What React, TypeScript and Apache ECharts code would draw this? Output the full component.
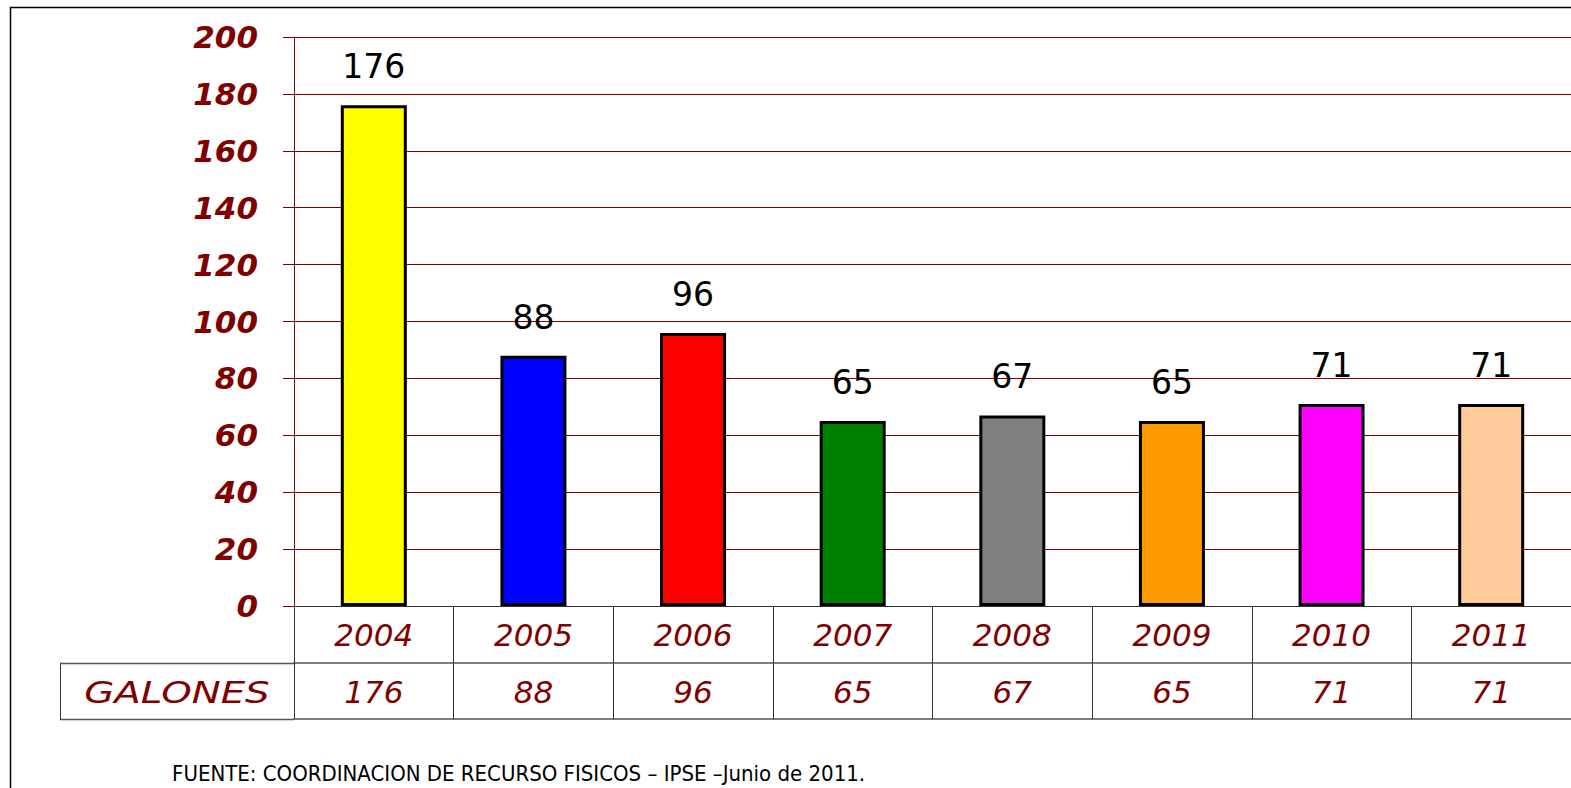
import React, { useEffect, useRef } from "react";
import * as echarts from "echarts";

const years = ["2004", "2005", "2006", "2007", "2008", "2009", "2010", "2011"];
const galones = [176, 88, 96, 65, 67, 65, 71, 71];
const barColors = ["#FFFF00", "#0000FF", "#FF0000", "#008000", "#808080", "#FF9900", "#FF00FF", "#FFCC99"];
const rowTitle = "GALONES";
const footer = "FUENTE: COORDINACION DE RECURSO FISICOS – IPSE –Junio de 2011.";

const DARK_RED = "#800000";
const TABLE_LINE = "#333333";
const TABLE_FONT = "DejaVu Sans, sans-serif";

export default function App() {
  const ref = useRef<HTMLDivElement>(null);
  useEffect(() => {
    document.body.style.margin = "0";
    const chart = echarts.init(ref.current!, null, { renderer: "svg" });
    chart.setOption({
      animation: false,
      backgroundColor: "#ffffff",
      grid: { left: 294, top: 37, width: 1283, height: 569 },
      xAxis: [
        {
          type: "category",
          data: years,
          position: "bottom",
          axisLine: { show: true, lineStyle: { color: TABLE_LINE, width: 1 } },
          axisTick: { show: true, length: 113, interval: 0, lineStyle: { color: TABLE_LINE, width: 1 } },
          axisLabel: {
            interval: 0,
            margin: 13,
            color: DARK_RED,
            fontStyle: "italic",
            fontSize: 31,
            fontFamily: TABLE_FONT,
          },
          splitLine: { show: false },
        },
        {
          type: "category",
          data: years,
          position: "bottom",
          offset: 57,
          axisLine: { show: true, lineStyle: { color: "#555555", width: 1.5 } },
          axisTick: { show: false },
          axisLabel: {
            interval: 0,
            margin: 13,
            color: DARK_RED,
            fontStyle: "italic",
            fontSize: 31,
            fontFamily: TABLE_FONT,
            formatter: (_v: string, i: number) => String(galones[i]),
          },
          splitLine: { show: false },
        },
        {
          type: "category",
          data: years,
          position: "bottom",
          offset: 113,
          axisLine: { show: true, lineStyle: { color: "#555555", width: 1.5 } },
          axisTick: { show: false },
          axisLabel: { show: false },
          splitLine: { show: false },
        },
      ],
      yAxis: {
        type: "value",
        min: 0,
        max: 200,
        interval: 20,
        axisLine: { show: true, lineStyle: { color: DARK_RED, width: 1 } },
        axisTick: { show: true, length: 11, lineStyle: { color: DARK_RED, width: 1 } },
        axisLabel: {
          margin: 36,
          color: DARK_RED,
          fontWeight: "bold",
          fontStyle: "italic",
          fontSize: 31,
          fontFamily: "DejaVu Sans, sans-serif",
        },
        splitLine: { show: true, lineStyle: { color: DARK_RED, width: 1 } },
      },
      series: [
        {
          type: "bar",
          xAxisIndex: 0,
          barWidth: 66,
          data: galones.map((v, i) => ({
            value: v,
            itemStyle: { color: barColors[i], borderColor: "#000000", borderWidth: 3 },
          })),
          label: {
            show: true,
            position: "top",
            distance: 22,
            color: "#000000",
            fontSize: 33,
            fontFamily: "DejaVu Sans, sans-serif",
          },
        },
      ],
      graphic: [
        {
          type: "rect",
          silent: true,
          z: -10,
          shape: { x: 10.5, y: 7.5, width: 1700, height: 900 },
          style: { fill: "none", stroke: "#000000", lineWidth: 1.5 },
        },
        { type: "line", shape: { x1: 60, y1: 663.5, x2: 294, y2: 663.5 }, style: { stroke: "#555555", lineWidth: 1.5 } },
        { type: "line", shape: { x1: 60, y1: 719.5, x2: 294, y2: 719.5 }, style: { stroke: "#555555", lineWidth: 1.5 } },
        { type: "line", shape: { x1: 60.5, y1: 663, x2: 60.5, y2: 720 }, style: { stroke: TABLE_LINE, lineWidth: 1 } },
        {
          type: "text",
          x: 177,
          y: 692,
          scaleX: 1.25,
          style: {
            text: rowTitle,
            fill: DARK_RED,
            fontSize: 31,
            fontStyle: "italic",
            fontFamily: TABLE_FONT,
            align: "center",
            verticalAlign: "middle",
          },
        },
        {
          type: "text",
          x: 172,
          y: 773,
          style: {
            text: footer,
            fill: "#000000",
            fontSize: 22,
            fontFamily: "Liberation Sans Narrow, DejaVu Sans Condensed, Arial Narrow, sans-serif",
            align: "left",
            verticalAlign: "middle",
          },
        },
      ],
    });
    return () => chart.dispose();
  }, []);
  return <div ref={ref} style={{ width: 1571, height: 788 }} />;
}
